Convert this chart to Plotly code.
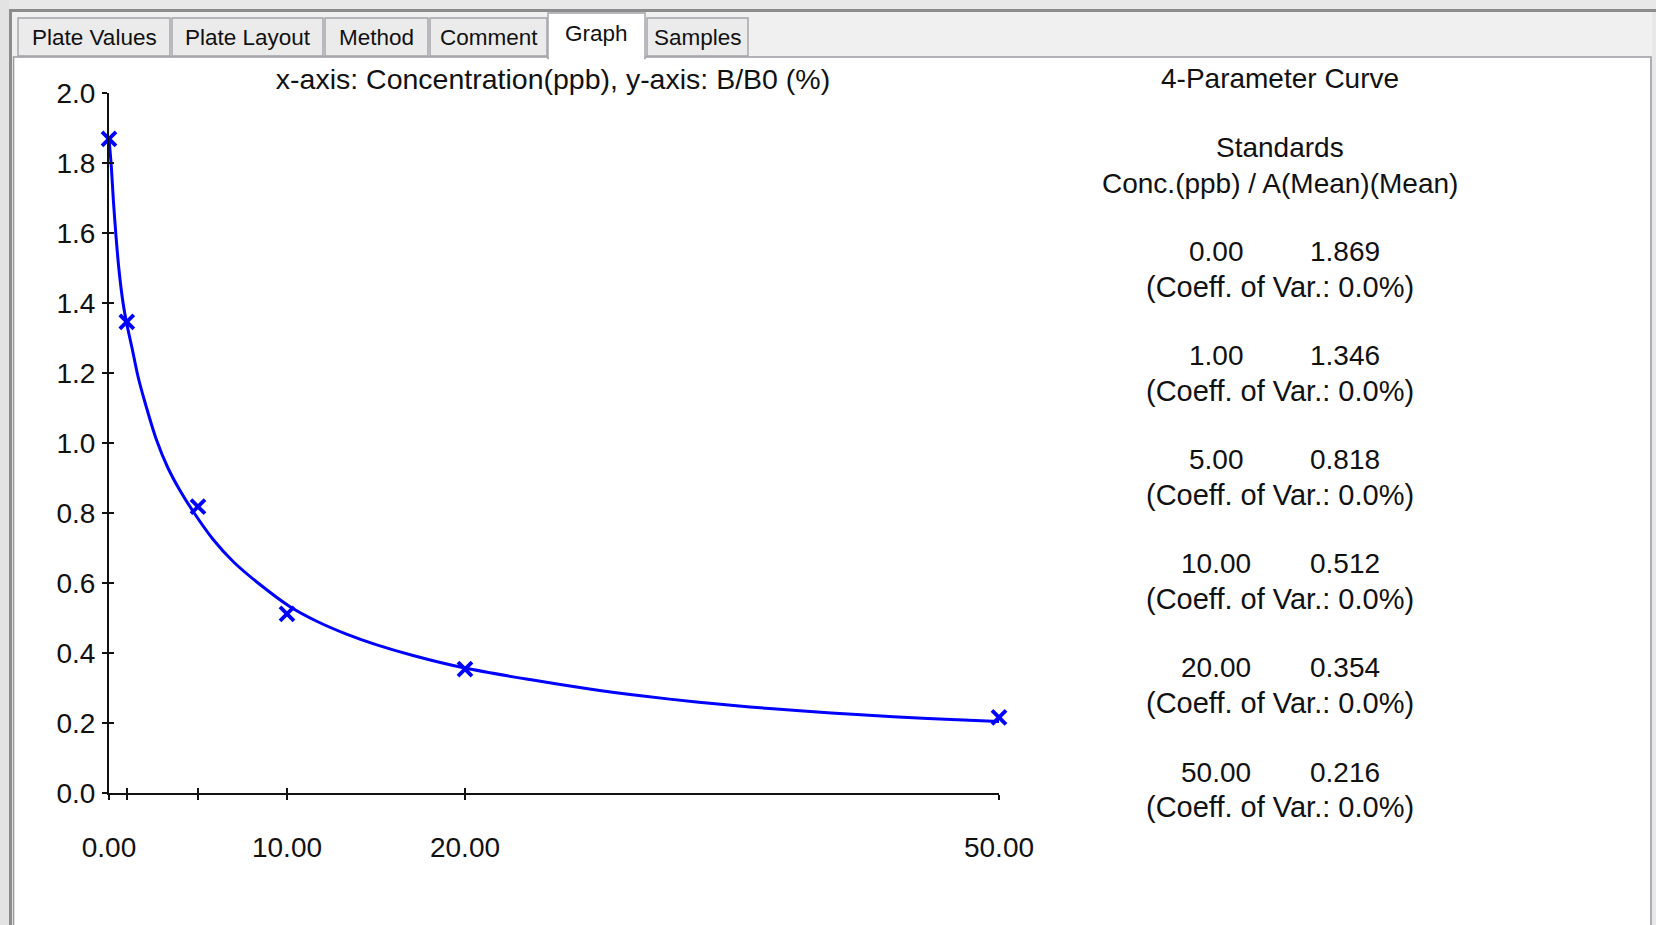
import plotly.graph_objects as go

# ---------------- data ----------------
std_conc = [0.0, 1.0, 5.0, 10.0, 20.0, 50.0]
std_mean = [1.869, 1.346, 0.818, 0.512, 0.354, 0.216]
std_cv = [0.0, 0.0, 0.0, 0.0, 0.0, 0.0]

# fitted 4-parameter curve
fit_x = [0, 0.05, 0.13, 0.25, 0.38, 0.55, 0.79, 1.0, 1.3, 1.63, 2.0, 2.66, 3.3, 3.98, 4.72,
         5.84, 7.0, 8.5, 10.15, 11.7, 13.34, 15.0, 17.08, 20.0, 23.64, 27.0, 30.0, 33.0,
         36.0, 39.0, 42.0, 46.0, 50.0]
fit_y = [1.87, 1.84, 1.79, 1.69, 1.60, 1.50, 1.40, 1.34, 1.27, 1.19, 1.12, 1.01, 0.93, 0.865, 0.805,
         0.725, 0.66, 0.595, 0.533, 0.49, 0.454, 0.424, 0.393, 0.357, 0.324, 0.297, 0.277, 0.260,
         0.246, 0.234, 0.224, 0.213, 0.204]

x_tickvals = [0, 1, 5, 10, 20, 50]
x_ticktext = ["0.00", "", "", "10.00", "20.00", "50.00"]
y_tickvals = [0.0, 0.2, 0.4, 0.6, 0.8, 1.0, 1.2, 1.4, 1.6, 1.8, 2.0]

tab_labels = ["Plate Values", "Plate Layout", "Method", "Comment", "Graph", "Samples"]
selected_tab = "Graph"

chart_title = "x-axis: Concentration(ppb), y-axis: B/B0 (%)"
side_title = "4-Parameter Curve"
side_sub1 = "Standards"
side_sub2 = "Conc.(ppb) / A(Mean)(Mean)"

# ---------------- layout geometry ----------------
FW, FH = 1656, 925
L, R, T, B = 109, 657, 93, 132
PW, PH = FW - L - R, FH - T - B
FONT = "Liberation Sans, Arial, sans-serif"
TXT = "#111111"


def ppx(x):
    return (x - L) / PW


def ppy(y):
    return 1 - (y - T) / PH


fig = go.Figure()

fig.add_trace(go.Scatter(x=fit_x, y=fit_y, mode="lines",
                         line=dict(color="#0000ff", width=3, shape="spline", smoothing=0.8),
                         cliponaxis=False, showlegend=False, hoverinfo="skip"))
fig.add_trace(go.Scatter(x=std_conc, y=std_mean, mode="markers",
                         marker=dict(symbol="x-thin", size=14, color="#0000ff",
                                     line=dict(color="#0000ff", width=3.8)),
                         cliponaxis=False, showlegend=False))
# empty trace to materialise overlay axes (inside half of the crossing ticks)
fig.add_trace(go.Scatter(x=[], y=[], xaxis="x2", yaxis="y2", showlegend=False))

axis_font = dict(family=FONT, size=28, color=TXT)
fig.update_layout(
    width=FW, height=FH,
    margin=dict(l=L, r=R, t=T, b=B),
    paper_bgcolor="white", plot_bgcolor="white",
    font=dict(family=FONT, size=28, color=TXT),
    title=dict(text=chart_title, x=553 / FW, xanchor="center", y=1 - 79.5 / FH, yanchor="middle",
               font=dict(family=FONT, size=28.5, color=TXT)),
    xaxis=dict(range=[0, 50], showgrid=False, zeroline=False, showline=True, linecolor=TXT, linewidth=2,
               ticks="outside", ticklen=5, tickwidth=2, tickcolor=TXT,
               tickmode="array", tickvals=x_tickvals, ticktext=x_ticktext, tickfont=axis_font,
               ticklabelstandoff=23),
    yaxis=dict(range=[0, 2], showgrid=False, zeroline=False, showline=True, linecolor=TXT, linewidth=2,
               ticks="outside", ticklen=5, tickwidth=2, tickcolor=TXT,
               tickmode="array", tickvals=y_tickvals, tickformat=".1f", tickfont=axis_font,
               ticklabelstandoff=1),
    xaxis2=dict(range=[0, 50], overlaying="x", anchor="y", side="bottom", showgrid=False, zeroline=False,
                showline=False, ticks="inside", ticklen=5, tickwidth=2, tickcolor=TXT,
                tickmode="array", tickvals=x_tickvals, showticklabels=False),
    yaxis2=dict(range=[0, 2], overlaying="y", anchor="x", side="left", showgrid=False, zeroline=False,
                showline=False, ticks="inside", ticklen=5, tickwidth=2, tickcolor=TXT,
                tickmode="array", tickvals=y_tickvals, showticklabels=False),
)

shapes = []
annotations = []

# window chrome: top strip and side strips
shapes.append(dict(type="rect", xref="paper", yref="paper", x0=ppx(0), x1=ppx(FW), y0=ppy(0), y1=ppy(57),
                   fillcolor="#f0f0f0", line=dict(width=0), layer="below"))
shapes.append(dict(type="rect", xref="paper", yref="paper", x0=ppx(0), x1=ppx(FW), y0=ppy(0), y1=ppy(9),
                   fillcolor="#e8e8e8", line=dict(width=0), layer="below"))
shapes.append(dict(type="rect", xref="paper", yref="paper", x0=ppx(0), x1=ppx(9), y0=ppy(0), y1=ppy(FH),
                   fillcolor="#e3e3e3", line=dict(width=0), layer="below"))
shapes.append(dict(type="rect", xref="paper", yref="paper", x0=ppx(1652), x1=ppx(FW), y0=ppy(0), y1=ppy(FH),
                   fillcolor="#e8e8e8", line=dict(width=0), layer="below"))
shapes.append(dict(type="line", xref="paper", yref="paper", x0=ppx(9), x1=ppx(FW), y0=ppy(10.5), y1=ppy(10.5),
                   line=dict(color="#8c8c8c", width=3)))
shapes.append(dict(type="line", xref="paper", yref="paper", x0=ppx(10.5), x1=ppx(10.5), y0=ppy(9), y1=ppy(FH),
                   line=dict(color="#8c8c8c", width=3)))
# panel border
shapes.append(dict(type="rect", xref="paper", yref="paper", x0=ppx(13.5), x1=ppx(1651), y0=ppy(57),
                   y1=ppy(FH + 5), fillcolor="rgba(0,0,0,0)", line=dict(color="#9a9aa2", width=1.6),
                   layer="below"))

# tabs
tab_edges = [(18, 170), (172, 323), (325, 428), (430, 547), (548, 645), (647, 748)]
for label, (x0, x1) in zip(tab_labels, tab_edges):
    sel = label == selected_tab
    top = 13 if sel else 18
    bottom = 58.5 if sel else 56
    shapes.append(dict(type="rect", xref="paper", yref="paper", x0=ppx(x0), x1=ppx(x1), y0=ppy(bottom),
                       y1=ppy(top), fillcolor="white" if sel else "#ebebeb",
                       line=dict(color="#a2a2a8", width=1.4)))
    if sel:
        shapes.append(dict(type="rect", xref="paper", yref="paper", x0=ppx(x0 + 1), x1=ppx(x1 - 1),
                           y0=ppy(60), y1=ppy(52), fillcolor="white", line=dict(width=0)))
    annotations.append(dict(text=label, xref="paper", yref="paper", x=ppx((x0 + x1) / 2),
                            y=ppy(34 if sel else 37.5), xanchor="center", yanchor="middle", showarrow=False,
                            font=dict(family=FONT, size=22.5, color=TXT)))

# right-side legend text
cx = 1280
side_font = dict(family=FONT, size=28, color=TXT)
annotations.append(dict(text=side_title, xref="paper", yref="paper", x=ppx(cx), y=ppy(79), xanchor="center",
                        yanchor="middle", showarrow=False, font=side_font))
annotations.append(dict(text=side_sub1, xref="paper", yref="paper", x=ppx(cx), y=ppy(148), xanchor="center",
                        yanchor="middle", showarrow=False, font=side_font))
annotations.append(dict(text=side_sub2, xref="paper", yref="paper", x=ppx(cx), y=ppy(183), xanchor="center",
                        yanchor="middle", showarrow=False, font=side_font))
for i, (c, m, cv) in enumerate(zip(std_conc, std_mean, std_cv)):
    yy = 251.5 + i * 104.1
    annotations.append(dict(text=f"{c:.2f}", xref="paper", yref="paper", x=ppx(1216), y=ppy(yy),
                            xanchor="center", yanchor="middle", showarrow=False, font=side_font))
    annotations.append(dict(text=f"{m:.3f}", xref="paper", yref="paper", x=ppx(1345), y=ppy(yy),
                            xanchor="center", yanchor="middle", showarrow=False, font=side_font))
    annotations.append(dict(text=f"(Coeff. of Var.: {cv:.1f}%)", xref="paper", yref="paper", x=ppx(cx),
                            y=ppy(yy + 35), xanchor="center", yanchor="middle", showarrow=False,
                            font=dict(family=FONT, size=29, color=TXT)))

fig.update_layout(shapes=shapes, annotations=annotations)
fig.write_html("out.html", config={"displayModeBar": False},
               post_script="document.body.style.margin='0';document.body.style.overflow='hidden';")
